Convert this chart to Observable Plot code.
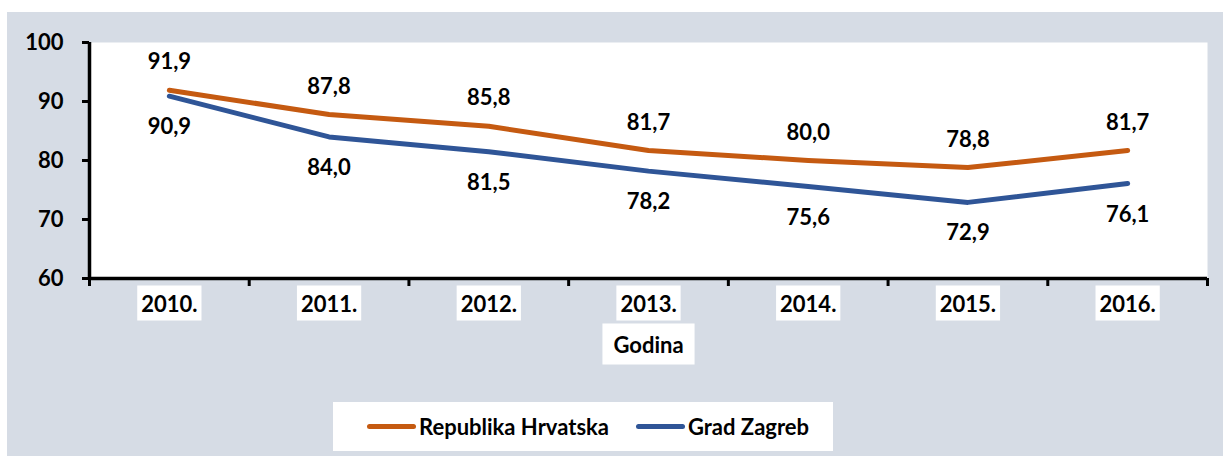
<!DOCTYPE html>
<html>
<head>
<meta charset="utf-8">
<script src="https://cdn.jsdelivr.net/npm/d3@7"></script>
<script src="https://cdn.jsdelivr.net/npm/@observablehq/plot@0.6"></script>
<style>
  html, body { margin: 0; padding: 0; background: #ffffff; }
  #wrap { position: relative; width: 1223px; height: 456px; overflow: hidden; font-family: Lato, "Open Sans", sans-serif; }
  #bg { position: absolute; left: 7px; top: 12px; right: 0; bottom: 0; background: #d6dce5; }
  #chart { position: absolute; left: 0; top: 0; }
  #legend { position: absolute; left: 333px; top: 402px; width: 500px; height: 49px; background: #ffffff;
            display: flex; align-items: center; font-weight: bold; font-size: 22px; color: #000; }
  .item { display: flex; align-items: center; }
  .sw { width: 49px; height: 5px; border-radius: 3px; margin-right: 3px; }
</style>
</head>
<body>
<div id="wrap">
  <div id="bg"></div>
  <div id="chart"></div>
  <div id="legend"></div>
</div>
<script>
const years = ["2010.", "2011.", "2012.", "2013.", "2014.", "2015.", "2016."];
const hrvatska = [91.9, 87.8, 85.8, 81.7, 80.0, 78.8, 81.7];
const zagreb = [90.9, 84.0, 81.5, 78.2, 75.6, 72.9, 76.1];
const seriesNames = ["Republika Hrvatska", "Grad Zagreb"];
const seriesColors = ["#c55a11", "#2f5597"];
const yTicks = [60, 70, 80, 90, 100];
const axisTitle = "Godina";

const fmt = v => v.toFixed(1).replace(".", ",");
const idx = years.map((d, i) => i);
const boundaries = [...idx.map(i => i - 0.5), years.length - 0.5];
const rows = (vals) => vals.map((v, i) => ({i, v}));

const font = "Lato, 'Open Sans', sans-serif";

const plot = Plot.plot({
  width: 1223,
  height: 340,
  marginLeft: 89,
  marginRight: 16,
  marginTop: 42,
  marginBottom: 62,
  style: {background: "transparent", fontFamily: font, overflow: "visible"},
  x: {domain: [-0.5, years.length - 0.5], axis: null, label: null},
  y: {domain: [60, 100], axis: null, label: null},
  marks: [
    Plot.frame({fill: "white", stroke: null}),
    Plot.axisY({ticks: yTicks, label: null, tickSize: 7, tickPadding: 19, strokeWidth: 3, stroke: "black",
      fontSize: 22, fontWeight: "bold", fill: "black", tickFormat: d => String(d)}),
    Plot.axisX({ticks: boundaries, label: null, tickSize: 8, strokeWidth: 3, stroke: "black", tickFormat: () => ""}),
    Plot.ruleX([-0.5], {stroke: "black", strokeWidth: 3.5}),
    Plot.ruleY([60], {stroke: "black", strokeWidth: 3.5}),
    Plot.line(rows(hrvatska), {x: "i", y: "v", stroke: seriesColors[0], strokeWidth: 5, strokeLinecap: "round", strokeLinejoin: "round"}),
    Plot.line(rows(zagreb), {x: "i", y: "v", stroke: seriesColors[1], strokeWidth: 5, strokeLinecap: "round", strokeLinejoin: "round"}),
    Plot.text(rows(hrvatska), {x: "i", y: "v", text: d => fmt(d.v), dy: -28, fontSize: 22, fontWeight: "bold", fill: "black"}),
    Plot.text(rows(zagreb), {x: "i", y: "v", text: d => fmt(d.v), dy: 31, fontSize: 22, fontWeight: "bold", fill: "black"}),
    Plot.text(years, {x: (d, i) => i, frameAnchor: "bottom", dy: 33, text: d => d, fontSize: 22, fontWeight: "bold", fill: "black", className: "yearlbl"}),
    Plot.text([axisTitle], {frameAnchor: "bottom", dy: 74, text: d => d, fontSize: 22, fontWeight: "bold", fill: "black", className: "titlelbl"})
  ]
});
document.getElementById("chart").appendChild(plot);

// white boxes behind category labels and axis title
function boxes(cls, px, py) {
  plot.querySelectorAll("g." + cls + " text").forEach(t => {
    const b = t.getBBox();
    const r = document.createElementNS("http://www.w3.org/2000/svg", "rect");
    r.setAttribute("x", b.x - px);
    r.setAttribute("y", b.y - py);
    r.setAttribute("width", b.width + 2 * px);
    r.setAttribute("height", b.height + 2 * py);
    r.setAttribute("fill", "white");
    const tr = t.getAttribute("transform");
    if (tr) r.setAttribute("transform", tr);
    t.parentNode.insertBefore(r, t);
  });
}
boxes("yearlbl", 4, 4);
boxes("titlelbl", 11, 7);

// legend
const legend = document.getElementById("legend");
const offsets = [34, 27];
seriesNames.forEach((name, k) => {
  const it = document.createElement("div");
  it.className = "item";
  it.style.marginLeft = offsets[k] + "px";
  const sw = document.createElement("div");
  sw.className = "sw";
  sw.style.background = seriesColors[k];
  const lb = document.createElement("span");
  lb.textContent = name;
  it.appendChild(sw);
  it.appendChild(lb);
  legend.appendChild(it);
});
</script>
</body>
</html>
